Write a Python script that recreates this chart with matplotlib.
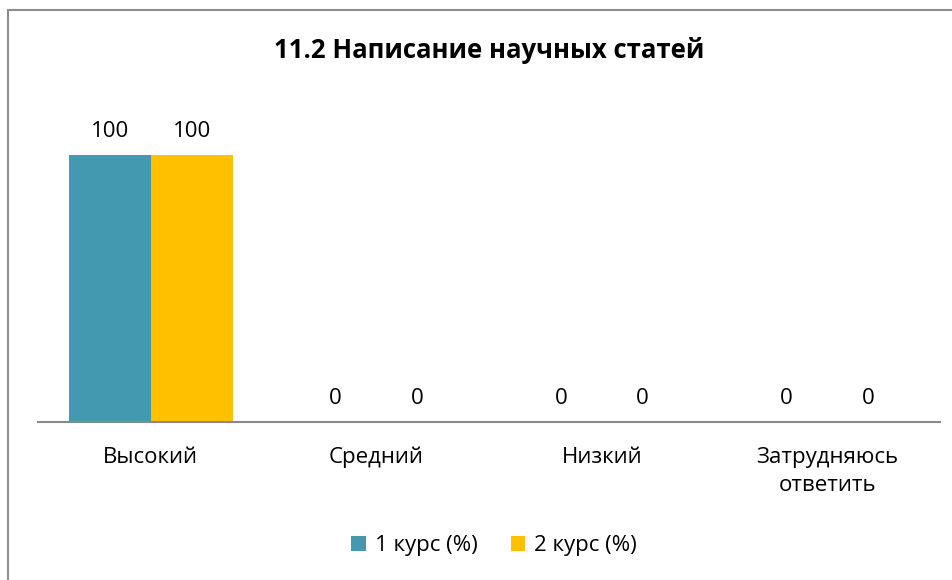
import matplotlib.pyplot as plt
import numpy as np
from matplotlib.lines import Line2D

# chart data
categories = ["Высокий", "Средний", "Низкий", "Затрудняюсь\nответить"]
series_names = ["1 курс (%)", "2 курс (%)"]
course1 = [100, 0, 0, 0]
course2 = [100, 0, 0, 0]
colors = ["#4299B0", "#FFC000"]

plt.rcParams['font.family'] = ['Open Sans', 'DejaVu Sans']

fig = plt.figure(figsize=(9.53, 5.8), dpi=100)
W, H = 953, 580
# plot area in pixels: x 38..940, y 155 (value 100) .. 422 (value 0)
ax = fig.add_axes([38 / W, 1 - 422 / H, (940 - 38) / W, (422 - 100) / H])

x = np.arange(len(categories))
bw = 0.3636
for i, (vals, name) in enumerate(zip([course1, course2], series_names)):
    pos = x + (i - 0.5) * bw
    ax.bar(pos, vals, width=bw, color=colors[i], label=name)
    for p, v in zip(pos, vals):
        ax.annotate(str(v), (p, v), xytext=(0, 9), textcoords="offset points",
                    ha="center", va="bottom", fontsize=16)

ax.set_xlim(-0.5, len(categories) - 0.5)
ax.set_ylim(0, 100 * (422 - 100) / (422 - 155))
ax.set_yticks([])
ax.set_xticks(x)
ax.set_xticklabels(categories, fontsize=16, linespacing=1.45)
ax.tick_params(axis="x", length=0, pad=18)
for s in ["top", "right", "left"]:
    ax.spines[s].set_visible(False)
ax.spines["bottom"].set_color("#898989")
ax.spines["bottom"].set_linewidth(1.5)

fig.text(489 / W, 1 - 50 / H, "11.2 Написание научных статей", ha="center", va="center",
         fontsize=18.5, fontweight="bold")

fig.legend(loc="center", bbox_to_anchor=(494 / W, 1 - 546 / H), ncol=2, frameon=False,
           fontsize=16, handlelength=0.65, handleheight=0.65, handletextpad=0.4,
           columnspacing=1.5)

# chart border (left and top visible)
fig.add_artist(Line2D([8.5 / W, 8.5 / W], [0, 1 - 9.5 / H], transform=fig.transFigure,
                      color="#8c8c8c", lw=1.5))
fig.add_artist(Line2D([8.5 / W, 1], [1 - 9.5 / H, 1 - 9.5 / H], transform=fig.transFigure,
                      color="#8c8c8c", lw=1.5))

fig.savefig("out.png", dpi=100)
